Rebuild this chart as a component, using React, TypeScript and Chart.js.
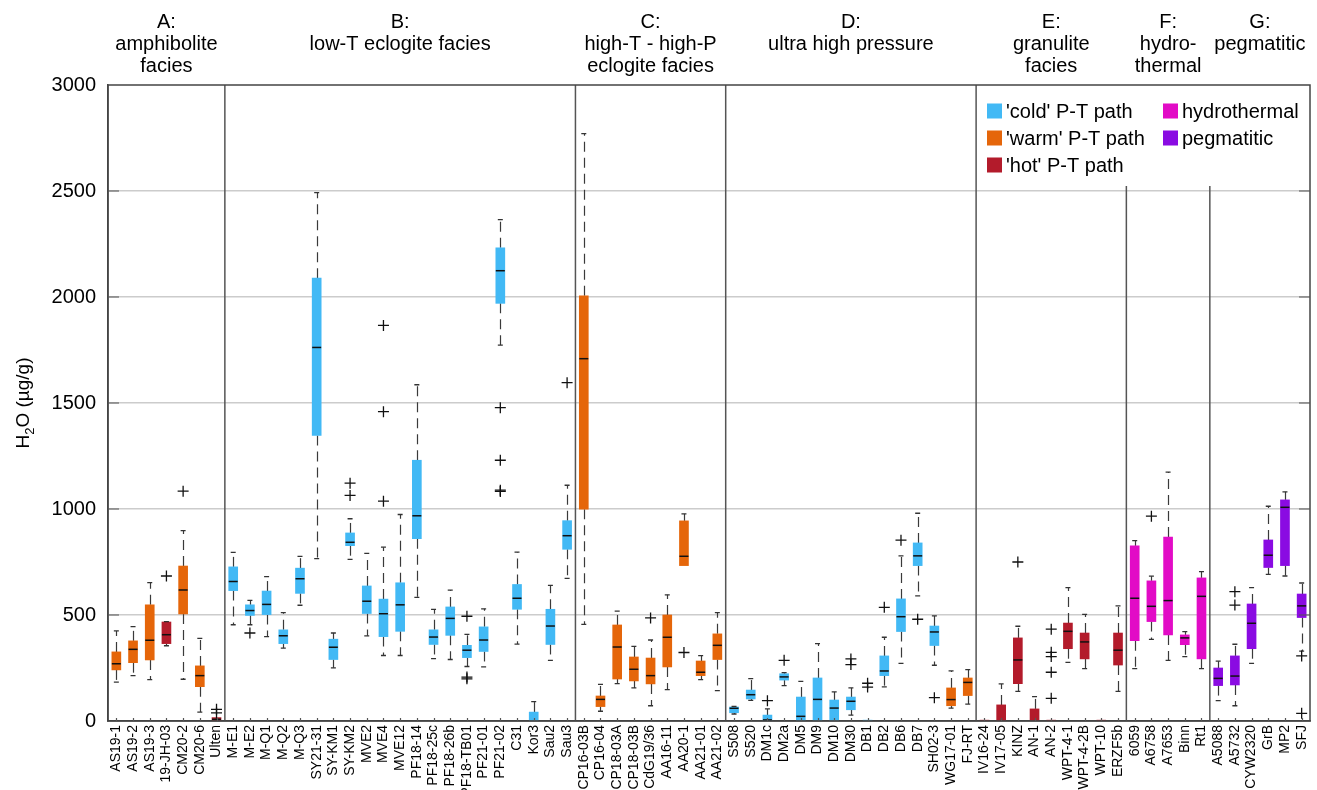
import React, { useEffect, useRef } from "react";
import { Chart, registerables } from "chart.js";

Chart.register(...registerables);

// ---------------- data ----------------
const categories = [
  "AS19-1", "AS19-2", "AS19-3", "19-JH-03", "CM20-2", "CM20-6", "Ulten",
  "M-E1", "M-E2", "M-Q1", "M-Q2", "M-Q3", "SY21-31", "SY-KM1", "SY-KM2", "MVE2", "MVE4", "MVE12",
  "PF18-14", "PF18-25c", "PF18-26b", "PF18-TB01", "PF21-01", "PF21-02", "C31", "Kor3", "Sau2", "Sau3",
  "CP16-03B", "CP16-04", "CP18-03A", "CP18-03B", "CdG19/36", "AA16-11", "AA20-1", "AA21-01", "AA21-02",
  "S508", "S520", "DM1c", "DM2a", "DM5", "DM9", "DM10", "DM30", "DB1", "DB2", "DB6", "DB7", "SH02-3", "WG17-01", "FJ-RT",
  "IV16-24", "IV17-05", "KINZ", "AN-1", "AN-2", "WPT-4-1", "WPT-4-2B", "WPT-10", "ERZF5b",
  "6059", "A6758", "A7653", "Binn", "Rt1",
  "A5088", "A5732", "CYW2320", "GrB", "MP2", "SFJ",
];

const q1Values = [
  241, 275, 288, 365, 505, 162, 0,
  615, 498, 502, 365, 602, 1347, 290, 827, 507, 398, 423,
  860, 361, 404, 299, 328, 1970, 527, 0, 361, 810,
  999, 68, 198, 189, 175, 255, 733, 214, 290,
  39, 104, 0, 193, 0, 0, 0, 53, 0, 214, 422, 733, 356, 72, 120,
  0, 0, 176, 0, 0, 341, 293, 0, 264,
  379, 469, 406, 360, 293,
  167, 170, 341, 724, 733, 488,
];

const medianValues: (number | null)[] = [
  270, 338, 381, 407, 618, 214, 8,
  658, 521, 550, 402, 671, 1762, 348, 843, 565, 506, 548,
  968, 396, 484, 334, 382, 2124, 579, null, 448, 874,
  1709, 102, 349, 244, 214, 395, 777, 230, 357,
  60, 124, 5, 208, 22, 102, 61, 93, null, 236, 492, 779, 420, 101, 182,
  null, null, 288, null, null, 423, 373, null, 334,
  579, 541, 568, 392, 588,
  201, 212, 461, 782, 1008, 543,
];

const q3Values = [
  326, 378, 548, 467, 731, 260, 16,
  727, 548, 613, 430, 721, 2089, 386, 887, 637, 575, 652,
  1230, 430, 538, 357, 444, 2232, 644, 42, 527, 945,
  2006, 118, 453, 302, 297, 500, 944, 283, 411,
  66, 146, 28, 223, 113, 203, 99, 113, 4, 307, 576, 840, 448, 156, 203,
  4, 76, 392, 57, 4, 462, 415, 4, 415,
  826, 661, 868, 406, 675,
  250, 307, 552, 854, 1043, 599,
];

const whiskerLow = [
  183, 214, 195, 355, 197, 42, 0,
  454, 454, 398, 344, 546, 766, 251, 762, 402, 309, 309,
  583, 294, 290, 257, 255, 1773, 363, 0, 286, 673,
  456, 46, 176, 156, 72, 148, 733, 195, 143,
  33, 97, 0, 167, 0, 0, 0, 28, 0, 161, 272, 590, 263, 61, 80,
  0, 0, 140, 0, 0, 277, 247, 0, 140,
  247, 385, 286, 304, 247,
  96, 72, 272, 692, 684, 330,
];

const whiskerHigh = [
  425, 445, 653, 469, 898, 390, 16,
  795, 569, 681, 511, 777, 2492, 415, 954, 791, 820, 974,
  1586, 527, 617, 409, 529, 2365, 797, 91, 640, 1112,
  2771, 173, 518, 352, 382, 595, 977, 308, 511,
  69, 200, 57, 228, 187, 365, 137, 156, 4, 395, 779, 980, 496, 236, 242,
  4, 175, 447, 115, 4, 629, 503, 4, 543,
  851, 683, 1174, 422, 705,
  282, 362, 629, 1013, 1081, 651,
];

const pathTypes = [
  "warm", "warm", "warm", "hot", "warm", "warm", "hot",
  "cold", "cold", "cold", "cold", "cold", "cold", "cold", "cold", "cold", "cold", "cold",
  "cold", "cold", "cold", "cold", "cold", "cold", "cold", "cold", "cold", "cold",
  "warm", "warm", "warm", "warm", "warm", "warm", "warm", "warm", "warm",
  "cold", "cold", "cold", "cold", "cold", "cold", "cold", "cold", "cold", "cold", "cold", "cold", "cold", "warm", "warm",
  "hot", "hot", "hot", "hot", "hot", "hot", "hot", "hot", "hot",
  "hydrothermal", "hydrothermal", "hydrothermal", "hydrothermal", "hydrothermal",
  "pegmatitic", "pegmatitic", "pegmatitic", "pegmatitic", "pegmatitic", "pegmatitic",
];

const outlierCategories = [
  "19-JH-03", "CM20-2", "Ulten", "Ulten",
  "M-E2", "SY-KM2", "SY-KM2", "MVE4", "MVE4", "MVE4", "PF18-TB01", "PF18-TB01", "PF18-TB01",
  "PF21-02", "PF21-02", "PF21-02", "PF21-02", "Sau3",
  "CdG19/36", "AA20-1",
  "DM1c", "DM2a", "DM30", "DM30", "DB1", "DB1", "DB2", "DB6", "DB7", "SH02-3",
  "KINZ", "AN-2", "AN-2", "AN-2", "AN-2", "AN-2",
  "A6758", "A5732", "A5732", "SFJ", "SFJ",
];
const outlierValues = [
  684, 1084, 55, 38,
  415, 1122, 1064, 1866, 1459, 1037, 494, 207, 199,
  1478, 1230, 1089, 1083, 1596,
  486, 323,
  96, 286, 293, 266, 178, 160, 536, 853, 480, 110,
  750, 433, 324, 304, 230, 107,
  966, 610, 547, 307, 36,
];

const groupTitles = [
  ["A:", "amphibolite", "facies"],
  ["B:", "low-T eclogite facies"],
  ["C:", "high-T - high-P", "eclogite facies"],
  ["D:", "ultra high pressure"],
  ["E:", "granulite", "facies"],
  ["F:", "hydro-", "thermal"],
  ["G:", "pegmatitic"],
];
const groupSizes = [7, 21, 9, 15, 9, 5, 6];

const legendKeys = ["cold", "warm", "hot", "hydrothermal", "pegmatitic"];
const legendLabels = ["'cold' P-T path", "'warm' P-T path", "'hot' P-T path", "hydrothermal", "pegmatitic"];

const yMin = 0;
const yMax = 3000;
const yStep = 500;

// ---------------- styles ----------------
const COLORS: Record<string, string> = {
  cold: "#42b9f5",
  warm: "#e5660a",
  hot: "#b31b2b",
  hydrothermal: "#e20bc6",
  pegmatitic: "#8a0be2",
};
const FONT = '"Liberation Sans", Arial, Helvetica, sans-serif';
const FRAME = "#444444";

const decorPlugin = {
  id: "boxDecor",
  beforeDatasetsDraw(chart: any) {
    const { ctx, scales } = chart;
    const x = scales.x;
    const y = scales.y;
    ctx.save();
    ctx.strokeStyle = "#3a3a3a";
    ctx.lineWidth = 1.2;
    ctx.setLineDash([10, 6]);
    categories.forEach((_, i) => {
      const px = Math.round(x.getPixelForValue(i)) + 0.5;
      if (whiskerHigh[i] > q3Values[i]) {
        ctx.beginPath();
        ctx.moveTo(px, y.getPixelForValue(q3Values[i]));
        ctx.lineTo(px, y.getPixelForValue(whiskerHigh[i]));
        ctx.stroke();
      }
      if (whiskerLow[i] < q1Values[i]) {
        ctx.beginPath();
        ctx.moveTo(px, y.getPixelForValue(q1Values[i]));
        ctx.lineTo(px, y.getPixelForValue(whiskerLow[i]));
        ctx.stroke();
      }
    });
    ctx.restore();
  },
  afterDraw(chart: any) {
    const { ctx, chartArea: a, scales } = chart;
    const x = scales.x;
    const y = scales.y;
    ctx.save();

    // boundaries between groups
    const bounds: number[] = [a.left];
    let c = 0;
    groupSizes.forEach((n, gi) => {
      c += n;
      if (gi < groupSizes.length - 1) {
        bounds.push((x.getPixelForValue(c - 1) + x.getPixelForValue(c)) / 2);
      }
    });
    bounds.push(a.right);

    // legend box (white) in the upper right
    const legendLeft = bounds[4];
    const legendBottom = 186;
    ctx.fillStyle = "#ffffff";
    ctx.fillRect(legendLeft, a.top, a.right - legendLeft, legendBottom - a.top);

    // dividers
    ctx.strokeStyle = "#555555";
    ctx.lineWidth = 1.5;
    for (let k = 1; k < bounds.length - 1; k++) {
      const top = k >= 5 ? legendBottom : a.top;
      ctx.beginPath();
      ctx.moveTo(bounds[k], top);
      ctx.lineTo(bounds[k], a.bottom);
      ctx.stroke();
    }

    // frame
    ctx.strokeStyle = FRAME;
    ctx.lineWidth = 1.5;
    ctx.strokeRect(a.left, a.top, a.right - a.left, a.bottom - a.top);

    // inward ticks
    ctx.strokeStyle = "#555555";
    ctx.lineWidth = 1.2;
    for (let v = yMin + yStep; v < yMax; v += yStep) {
      const py = y.getPixelForValue(v);
      ctx.beginPath();
      ctx.moveTo(a.left, py);
      ctx.lineTo(a.left + 11, py);
      ctx.moveTo(a.right, py);
      ctx.lineTo(a.right - 11, py);
      ctx.stroke();
    }
    categories.forEach((_, i) => {
      const px = Math.round(x.getPixelForValue(i)) + 0.5;
      ctx.beginPath();
      ctx.moveTo(px, a.bottom);
      ctx.lineTo(px, a.bottom - 3);
      ctx.stroke();
    });

    // legend
    ctx.textBaseline = "middle";
    ctx.textAlign = "left";
    ctx.font = `20px ${FONT}`;
    legendKeys.forEach((key, i) => {
      const col = i < 3 ? 0 : 1;
      const row = i < 3 ? i : i - 3;
      const sx = col === 0 ? 987 : 1163;
      const sy = 111 + row * 27;
      ctx.fillStyle = COLORS[key];
      ctx.fillRect(sx, sy - 7.5, 15, 15);
      ctx.fillStyle = "#000";
      ctx.fillText(legendLabels[i], sx + 19, sy + 1);
    });

    // group titles
    ctx.textAlign = "center";
    ctx.font = `20px ${FONT}`;
    ctx.fillStyle = "#000";
    groupTitles.forEach((lines, gi) => {
      const cx = (bounds[gi] + bounds[gi + 1]) / 2;
      lines.forEach((t, li) => ctx.fillText(t, cx, 22 + li * 22));
    });

    // y-axis title with subscript
    ctx.translate(24, (a.top + a.bottom) / 2);
    ctx.rotate(-Math.PI / 2);
    const big = `19px ${FONT}`;
    const small = `13px ${FONT}`;
    ctx.font = big;
    const wH = ctx.measureText("H").width;
    const wRest = ctx.measureText("O (µg/g)").width;
    ctx.font = small;
    const w2 = ctx.measureText("2").width;
    const start = -(wH + w2 + wRest) / 2;
    ctx.textAlign = "left";
    ctx.font = big;
    ctx.fillText("H", start, 0);
    ctx.font = small;
    ctx.fillText("2", start + wH, 6);
    ctx.font = big;
    ctx.fillText("O (µg/g)", start + wH + w2, 0);
    ctx.restore();
  },
};

export default function App() {
  const ref = useRef<HTMLCanvasElement>(null);

  useEffect(() => {
    const canvas = ref.current;
    if (!canvas) return;
    const capLow = whiskerLow.map((v, i) => (v < q1Values[i] ? v : null));
    const capHigh = whiskerHigh.map((v, i) => (v > q3Values[i] ? v : null));
    const chart = new Chart(canvas, {
      type: "bar",
      data: {
        labels: categories,
        datasets: [
          {
            type: "bar",
            data: categories.map((_, i) => [q1Values[i], q3Values[i]]) as any,
            backgroundColor: pathTypes.map((t) => COLORS[t]),
            borderWidth: 0,
            borderSkipped: false,
            barThickness: 9,
            order: 3,
          } as any,
          {
            type: "line",
            data: medianValues as any,
            showLine: false,
            pointStyle: "line",
            pointRadius: 4.5,
            pointHoverRadius: 4.5,
            pointBorderColor: "#111111",
            pointBorderWidth: 1.5,
            order: 1,
          } as any,
          {
            type: "line",
            data: capHigh as any,
            showLine: false,
            pointStyle: "line",
            pointRadius: 2.5,
            pointHoverRadius: 2.5,
            pointBorderColor: "#333333",
            pointBorderWidth: 1.3,
            order: 2,
          } as any,
          {
            type: "line",
            data: capLow as any,
            showLine: false,
            pointStyle: "line",
            pointRadius: 2.5,
            pointHoverRadius: 2.5,
            pointBorderColor: "#333333",
            pointBorderWidth: 1.3,
            order: 2,
          } as any,
          {
            type: "line",
            data: outlierCategories.map((cat, i) => ({ x: cat, y: outlierValues[i] })) as any,
            showLine: false,
            pointStyle: "cross",
            pointRadius: 5.5,
            pointHoverRadius: 5.5,
            pointBorderColor: "#111111",
            pointBorderWidth: 1.3,
            order: 0,
          } as any,
        ],
      },
      options: {
        responsive: false,
        animation: false,
        events: [],
        layout: { padding: { top: 85, right: 7, left: 0, bottom: 0 } },
        plugins: {
          legend: { display: false },
          tooltip: { enabled: false },
        },
        scales: {
          x: {
            type: "category",
            offset: true,
            grid: { display: false, drawTicks: false },
            border: { display: true, color: FRAME, width: 1.5 },
            ticks: {
              autoSkip: false,
              minRotation: 90,
              maxRotation: 90,
              padding: 4,
              color: "#000",
              font: { family: FONT, size: 14 },
            },
            afterFit(scale: any) {
              scale.height = 69;
              scale.paddingLeft = 0;
              scale.paddingRight = 0;
            },
          },
          y: {
            type: "linear",
            min: yMin,
            max: yMax,
            grid: {
              drawTicks: false,
              lineWidth: 1.5,
              color: (ctx: any) =>
                ctx.tick && (ctx.tick.value === yMin || ctx.tick.value === yMax) ? "rgba(0,0,0,0)" : "#cccccc",
            },
            border: { display: true, color: FRAME, width: 1.5 },
            ticks: {
              stepSize: yStep,
              padding: 12,
              color: "#000",
              font: { family: FONT, size: 20 },
              callback: (v: any) => String(v),
            },
            afterFit(scale: any) {
              scale.width = 108;
            },
          },
        },
      } as any,
      plugins: [decorPlugin],
    });
    return () => chart.destroy();
  }, []);

  return (
    <div
      style={{
        position: "fixed",
        left: 0,
        top: 0,
        width: 1317,
        height: 790,
        overflow: "hidden",
        background: "#ffffff",
      }}
    >
      <canvas ref={ref} width={1317} height={790} style={{ display: "block", width: 1317, height: 790 }} />
    </div>
  );
}
